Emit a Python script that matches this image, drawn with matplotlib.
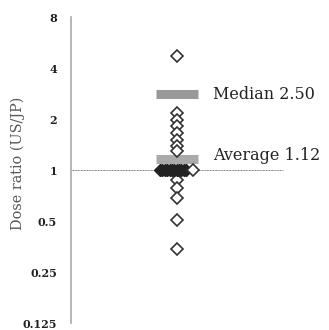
import numpy as np
import matplotlib
matplotlib.use("Agg")
import matplotlib.pyplot as plt

# dose ratios (US/JP)
ratios = [4.75, 2.16, 1.97, 1.81, 1.65, 1.50, 1.38, 1.29,
          0.87, 0.78, 0.685, 0.51, 0.34]
ratios_at_one = [1.0] * 12
median_bar = 2.8
average_bar = 1.16
median_text = "Median 2.50"
average_text = "Average 1.12"
yticks = [0.125, 0.25, 0.5, 1, 2, 4, 8]
ytick_labels = ["0.125", "0.25", "0.5", "1", "2", "4", "8"]

plt.rcParams['font.family'] = ['DejaVu Serif']

fig = plt.figure(figsize=(3.29, 3.30), dpi=100)
ax = fig.add_axes([0.216, 0.021, 0.784, 0.927])
ax.set_yscale('log', base=2)
ax.set_ylim(0.125, 8)
ax.set_xlim(-2.52, 3.62)

# reference line at 1
ax.plot([-2.52, 2.53], [1, 1], color='#777777', lw=0.7, ls=(0, (1, 0.6)), zorder=1)

# bars
ax.plot([-0.5, 0.5], [median_bar, median_bar], color='#999999', lw=6.5,
        solid_capstyle='butt', zorder=2)
ax.plot([-0.5, 0.5], [average_bar, average_bar], color='#aaaaaa', lw=6.5,
        solid_capstyle='butt', zorder=2)

# scattered points
ax.plot(np.zeros(len(ratios)), ratios, ls='none', marker='D', ms=6.5,
        mfc='white', mec='#333333', mew=1.2, zorder=3)
xs_one = np.linspace(-0.4, 0.22, len(ratios_at_one))
ax.plot(xs_one, ratios_at_one, ls='none', marker='D', ms=6,
        mfc='#222222', mec='#222222', mew=1.0, zorder=4)
ax.plot([0.38], [1.0], ls='none', marker='D', ms=6.5,
        mfc='white', mec='#333333', mew=1.2, zorder=5)

ax.text(0.86, median_bar, median_text, fontsize=11.5, va='center', ha='left', color='#222222')
ax.text(0.86, 1.08, average_text, fontsize=11.5, va='bottom', ha='left', color='#222222')

ax.set_yticks(yticks)
ax.set_yticklabels(ytick_labels, fontsize=8, fontweight='bold', color='#222222')
ax.minorticks_off()
ax.tick_params(axis='y', length=0, pad=10)
ax.set_xticks([])
for s in ['top', 'right', 'bottom']:
    ax.spines[s].set_visible(False)
ax.spines['left'].set_color('#aaaaaa')
ax.spines['left'].set_linewidth(1.2)
ax.set_ylabel('Dose ratio (US/JP)', fontsize=10.4, color='#555555', va='center')
ax.yaxis.set_label_coords(-0.205, 0.523)

fig.savefig('out.png', dpi=100)
